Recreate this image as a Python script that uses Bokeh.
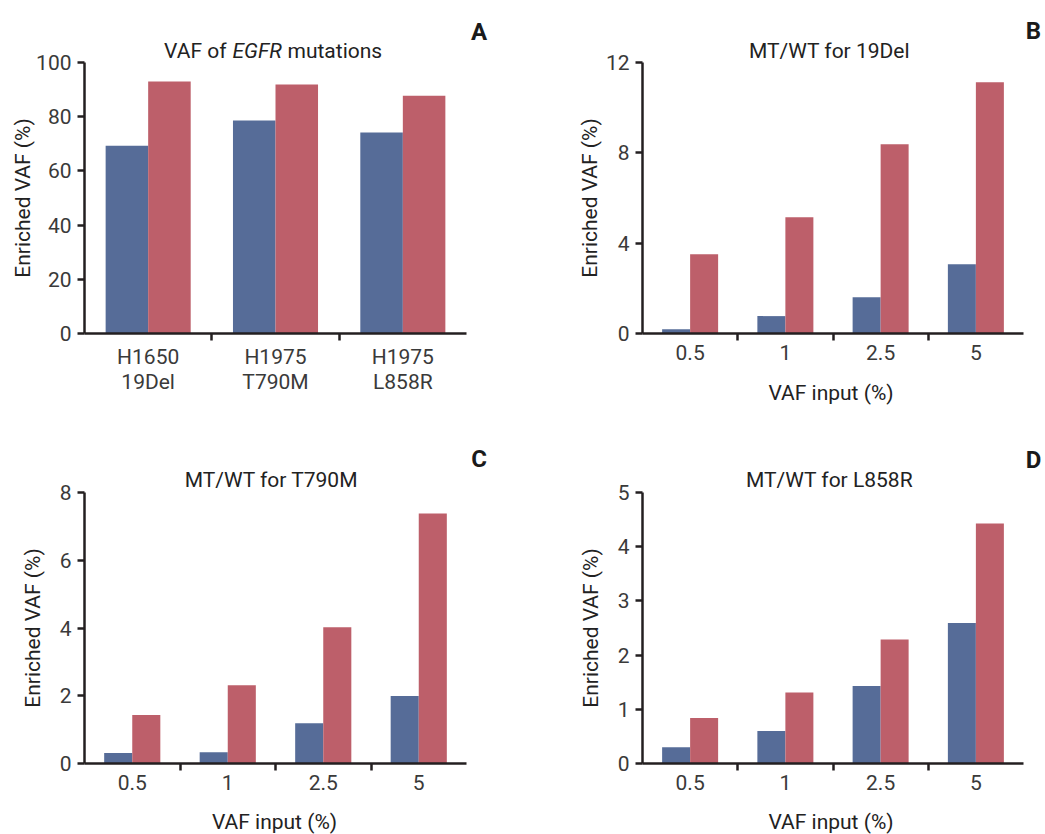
from bokeh.plotting import figure
from bokeh.models import Range1d, FixedTicker, Label
from bokeh.layouts import gridplot
from bokeh.embed import file_html
from bokeh.resources import INLINE
import numpy as np

FONT = "Roboto"
BLUE = "#566c98"
RED = "#bd5f6a"
AXIS = "#231f20"
TXT = "#3a3a3a"
DARK = "#222222"

# ---- data ----
a_cats = ["H1650\n19Del", "H1975\nT790M", "H1975\nL858R"]
a_blue = [69.3, 78.6, 74.2]
a_red = [93.0, 91.9, 87.7]
a_yticks = [0, 20, 40, 60, 80, 100]

input_cats = ["0.5", "1", "2.5", "5"]
b_blue = [0.19, 0.77, 1.61, 3.07]
b_red = [3.51, 5.15, 8.38, 11.13]
b_yticks = [0, 4, 8, 12]

c_blue = [0.31, 0.33, 1.19, 1.99]
c_red = [1.43, 2.31, 4.02, 7.38]
c_yticks = [0, 2, 4, 6, 8]

d_blue = [0.30, 0.60, 1.43, 2.59]
d_red = [0.84, 1.31, 2.29, 4.43]
d_yticks = [0, 1, 2, 3, 4, 5]

AXIS_H = 271  # pixel height of the tick span (0 .. max)


def panel(cats, blue, red, yticks, box, axis_left, axis_w, zero_y, bar_w,
          titles, letter, ylab, xlab):
    """box = (page_x, page_y, width, height) of the figure."""
    n = len(cats)
    ymax = yticks[-1]
    ox, oy, W, H = box

    def X(px):  # page pixel -> data x
        return (px - axis_left) * n / axis_w - 0.5

    def Y(py):  # page pixel -> data y
        return (zero_y - py) * ymax / AXIS_H

    p = figure(width=W, height=H,
               x_range=Range1d(X(ox), X(ox + W)), y_range=Range1d(Y(oy + H), Y(oy)),
               output_backend="svg", toolbar_location=None,
               min_border=0, min_border_left=0, min_border_right=0,
               min_border_top=0, min_border_bottom=0)
    p.outline_line_color = None
    p.grid.visible = False
    p.background_fill_color = "white"
    p.border_fill_color = "white"

    idx = np.arange(n)
    p.vbar(x=idx - bar_w / 2, top=blue, width=bar_w, fill_color=BLUE, line_color=None)
    p.vbar(x=idx + bar_w / 2, top=red, width=bar_w, fill_color=RED, line_color=None)

    for ax in (p.xaxis[0], p.yaxis[0]):
        ax.axis_line_color = AXIS
        ax.axis_line_width = 2.5
        ax.major_tick_line_color = AXIS
        ax.major_tick_line_width = 2.5
        ax.minor_tick_line_color = AXIS
        ax.minor_tick_line_width = 2.5
        ax.major_label_text_font = FONT
        ax.major_label_text_font_size = "21px"
        ax.major_label_text_color = TXT

    xa = p.xaxis[0]
    xa.fixed_location = 0
    xa.bounds = (-0.5, n - 0.5)
    xa.ticker = FixedTicker(ticks=list(range(n)), minor_ticks=[i + 0.5 for i in range(n - 1)])
    xa.major_label_overrides = {i: c for i, c in enumerate(cats)}
    xa.major_tick_out = 0
    xa.major_tick_in = 0
    xa.minor_tick_out = 7
    xa.minor_tick_in = 0
    xa.major_label_standoff = 4
    xa.major_label_text_line_height = 1.05

    ya = p.yaxis[0]
    ya.fixed_location = -0.5
    ya.bounds = (0, ymax)
    ya.ticker = FixedTicker(ticks=yticks, minor_ticks=[])
    ya.major_tick_out = 7
    ya.major_tick_in = 0
    ya.major_label_standoff = 6

    def lab(text, px, py, size="21px", style="normal", align="center", angle=0,
            color=DARK):
        p.add_layout(Label(x=X(px), y=Y(py), text=text, text_align=align,
                           text_baseline="middle", text_font=FONT,
                           text_font_size=size, text_font_style=style,
                           angle=angle, angle_units="deg", text_color=color))

    for t in titles:
        lab(*t)
    lab(letter[0], letter[1], letter[2], size="24px", style="bold", color="#1a1a1a")
    lab("Enriched VAF (%)", ylab[0], ylab[1], angle=90)
    if xlab is not None:
        lab("VAF input (%)", xlab[0], xlab[1])
    return p


pA = panel(a_cats, a_blue, a_red, a_yticks, (0, 0, 520, 430), 84, 382, 333, 0.334,
           [("VAF of", 226, 50, "21px", "normal", "right"),
            ("EGFR", 232, 50, "21px", "italic", "left"),
            ("mutations", 287, 50, "21px", "normal", "left")],
           ("A", 478.5, 31.5), (22, 197.5), None)
pB = panel(input_cats, b_blue, b_red, b_yticks, (520, 0, 525, 430), 642, 381, 333, 0.294,
           [("MT/WT for 19Del", 829, 50)],
           ("B", 1033, 30.5), (589, 197.5), (830.5, 392))
pC = panel(input_cats, c_blue, c_red, c_yticks, (0, 430, 520, 404), 84, 382, 763, 0.294,
           [("MT/WT for T790M", 271, 479)],
           ("C", 478.5, 458.5), (32, 627.5), (274, 821))
pD = panel(input_cats, d_blue, d_red, d_yticks, (520, 430, 525, 404), 642, 381, 763, 0.294,
           [("MT/WT for L858R", 829, 479)],
           ("D", 1033, 459), (590, 627.5), (830.5, 821))

grid = gridplot([[pA, pB], [pC, pD]], toolbar_location=None)

open("out.html", "w").write(file_html(grid, INLINE))
